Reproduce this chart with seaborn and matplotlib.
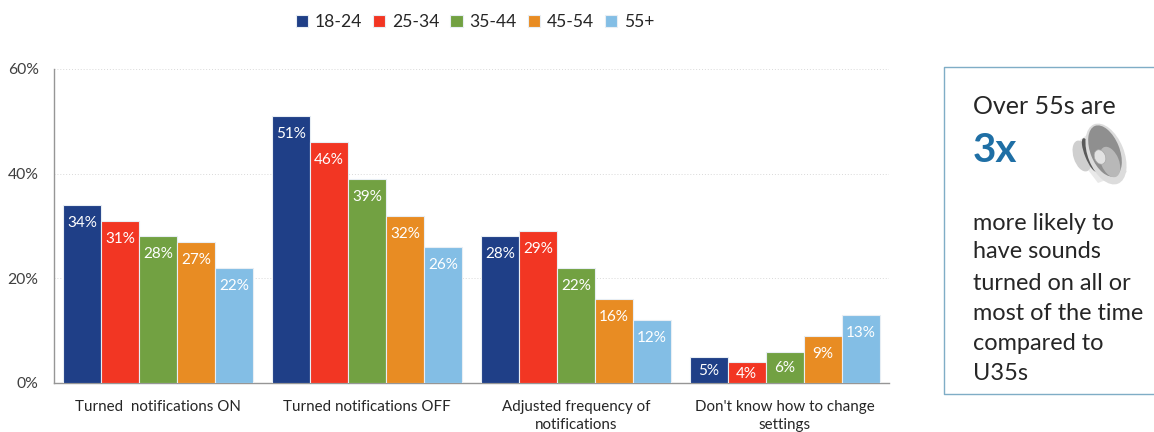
import matplotlib
matplotlib.use("Agg")
import matplotlib.pyplot as plt
from matplotlib.patches import Ellipse, Polygon
import pandas as pd
import seaborn as sns

categories = ["Turned  notifications ON", "Turned notifications OFF",
              "Adjusted frequency of\nnotifications", "Don't know how to change\nsettings"]
age_18_24 = [34, 51, 28, 5]
age_25_34 = [31, 46, 29, 4]
age_35_44 = [28, 39, 22, 6]
age_45_54 = [27, 32, 16, 9]
age_55_up = [22, 26, 12, 13]
age_groups = ["18-24", "25-34", "35-44", "45-54", "55+"]
colors = ["#1F3F87", "#F23623", "#72A142", "#E88C23", "#83BEE5"]
y_ticks = [0, 20, 40, 60]

sns.set_theme(style="white")
plt.rcParams["font.family"] = ["Lato", "DejaVu Sans"]

W, H = 1154, 432
fig = plt.figure(figsize=(W / 100, H / 100), dpi=100)
ax = fig.add_axes([54 / W, (H - 383) / H, 835 / W, 314 / H])

df = pd.DataFrame({"category": categories, "18-24": age_18_24, "25-34": age_25_34,
                   "35-44": age_35_44, "45-54": age_45_54, "55+": age_55_up})
long = df.melt(id_vars="category", var_name="age", value_name="pct")

sns.barplot(data=long, x="category", y="pct", hue="age", hue_order=age_groups,
            palette=colors, width=0.91, gap=0, saturation=1, ax=ax,
            edgecolor="#e8eef4", linewidth=0.8, zorder=3)

ax.set_xlim(-0.5, 3.5)
ax.set_ylim(0, 60)
ax.set_yticks(y_ticks)
ax.set_yticklabels([f"{t}%" for t in y_ticks], fontsize=11.3, color="#404040")
ax.set_xlabel("")
ax.set_ylabel("")
ax.tick_params(axis="x", labelsize=10.9, labelcolor="#262626", length=0, pad=12)
for lab in ax.get_xticklabels():
    lab.set_linespacing(1.35)
ax.tick_params(axis="y", length=0, pad=11)
ax.grid(axis="y", color="#d9d9d9", linestyle=(0, (1, 2)), linewidth=0.7, zorder=0)
ax.set_axisbelow(True)
sns.despine(ax=ax, top=True, right=True)
for side in ["left", "bottom"]:
    ax.spines[side].set_color("#969696")
    ax.spines[side].set_linewidth(1)

# value labels inside the bars, short bars get them centred
for cont in ax.containers:
    for bar in cont:
        h = bar.get_height()
        px_h = h * 314 / 60
        drop = min(18, px_h / 2 + 1)
        ax.annotate(f"{h:.0f}%", (bar.get_x() + bar.get_width() / 2, h),
                    xytext=(0, -drop * 0.72), textcoords="offset points",
                    ha="center", va="center", color="white", fontsize=11, zorder=5)

handles, labels = ax.get_legend_handles_labels()
ax.legend_.remove()
fig.legend(handles, labels, ncol=5, loc="center", bbox_to_anchor=(475 / W, (H - 22) / H),
           frameon=False, fontsize=12.6, handlelength=0.7, handleheight=0.7,
           handletextpad=0.4, columnspacing=0.61, labelcolor="#262626")

# callout on the right, drawn in pixel coordinates of the picture
ov = fig.add_axes([0, 0, 1, 1], zorder=10)
ov.set_xlim(0, W)
ov.set_ylim(H, 0)
ov.axis("off")
ov.plot([1154, 944, 944, 1154], [67, 67, 394, 394], color="#7fadc6", lw=1)
ov.text(973, 107, "Over 55s are", fontsize=18, color="#262626", va="center")
ov.text(973, 151, "3x", fontsize=29, fontweight="bold", color="#1F6FA5", va="center")
body = ["more likely to", "have sounds", "turned on all or",
        "most of the time", "compared to", "U35s"]
for line, yy in zip(body, [223, 252, 283, 313, 343, 374]):
    ov.text(973, yy, line, fontsize=16.9, color="#262626", va="center")

# speaker icon
ov.add_patch(Polygon([[1080, 140], [1100, 125], [1127, 172], [1098, 183], [1082, 162]],
                     closed=True, fc="#c8c8c8", ec="none", alpha=0.4))
ov.add_patch(Ellipse((1082, 156), 17, 32, angle=-18, fc="#cfcfcf", ec="none"))
ov.add_patch(Ellipse((1090, 155), 10, 36, angle=-22, fc="#5a5a5a", ec="none"))
ov.add_patch(Ellipse((1106, 154), 36, 64, angle=-22, fc="#dcdcdc", ec="none"))
ov.add_patch(Ellipse((1105, 151), 29, 54, angle=-22, fc="#8f8f8f", ec="none"))
ov.add_patch(Ellipse((1110, 162), 18, 32, angle=-22, fc="#b8b8b8", ec="none"))
ov.add_patch(Ellipse((1100, 157), 11, 15, angle=-22, fc="#e2e2e2", ec="#a8a8a8", lw=0.5))

fig.savefig("out.png", dpi=100)
